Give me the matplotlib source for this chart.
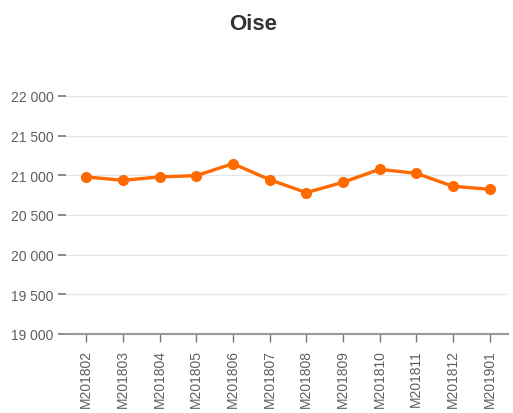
import matplotlib
matplotlib.use("Agg")
import matplotlib.pyplot as plt
from matplotlib.ticker import FuncFormatter

plt.rcParams["font.family"] = ["Liberation Sans", "DejaVu Sans"]

title = "Oise"
months = ["M201802", "M201803", "M201804", "M201805", "M201806", "M201807",
          "M201808", "M201809", "M201810", "M201811", "M201812", "M201901"]
values = [20980, 20937, 20980, 20996, 21147, 20946,
          20782, 20912, 21076, 21025, 20862, 20824]
y_ticks = [19000, 19500, 20000, 20500, 21000, 21500, 22000]

fig = plt.figure(figsize=(5.13, 4.14), dpi=100)
ax = fig.add_axes([66 / 513, 1 - 335 / 414, (508 - 66) / 513, (335 - 97) / 414])

x = range(len(months))
ax.plot(x, values, color="#ff6a00", linewidth=2.4, marker="o", markersize=7,
        zorder=3, clip_on=False)

ax.set_ylim(19000, 22000)
ax.set_xlim(-0.55, len(months) - 0.5)
ax.set_yticks(y_ticks)
ax.yaxis.set_major_formatter(FuncFormatter(lambda v, _: f"{int(v):,}".replace(",", " ")))
ax.set_xticks(list(x))
ax.set_xticklabels(months, rotation=90)

ax.grid(axis="y", color="#e6e6e6", linewidth=1)
ax.set_axisbelow(True)
for side in ("top", "right", "left"):
    ax.spines[side].set_visible(False)
ax.spines["bottom"].set_color("#999999")
ax.spines["bottom"].set_linewidth(1.5)

ax.tick_params(axis="y", length=6, width=1.2, color="#777777", pad=3,
               labelsize=10, labelcolor="#5f5f5f")
ax.tick_params(axis="x", length=6, width=1, color="#777777", pad=5,
               labelsize=10, labelcolor="#5f5f5f")

fig.text(253 / 513, 1 - 25 / 414, title, ha="center", va="center",
         fontsize=16, fontweight="bold", color="#333333")

fig.savefig("out.png", dpi=100, facecolor="white")
